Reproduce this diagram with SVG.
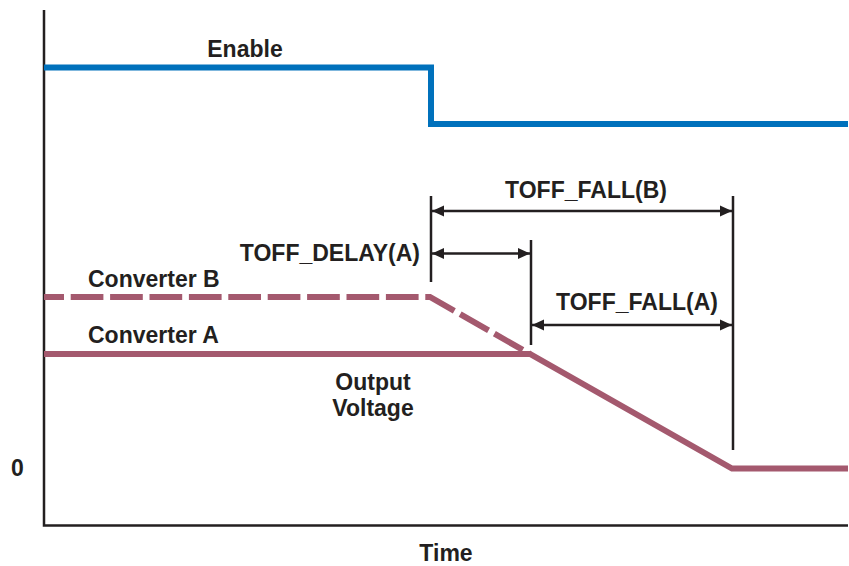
<svg xmlns="http://www.w3.org/2000/svg" width="849" height="566" viewBox="0 0 849 566">
<style>
  text { font-family: "Liberation Sans", Arial, sans-serif; font-weight: bold; font-size: 23px; fill: #231f20; }
  .axis { stroke: #231f20; stroke-width: 2.5; fill: none; }
  .enable { stroke: #0071bc; stroke-width: 6; fill: none; stroke-linejoin: miter; }
  .conv { stroke: #a4596e; stroke-width: 6; fill: none; stroke-linejoin: miter; }
  .dash { stroke-dasharray: 32.7 6.7; stroke-dashoffset: 12.7; }
  .tick { stroke: #231f20; stroke-width: 2.5; fill: none; }
  .dim { stroke: #231f20; stroke-width: 2.5; fill: none; marker-start: url(#ah); marker-end: url(#ah); }
</style>
<defs>
  <marker id="ah" viewBox="0 0 12 12" refX="12" refY="6" markerWidth="12" markerHeight="12" markerUnits="userSpaceOnUse" orient="auto-start-reverse">
    <path d="M0,0.5 L12,6 L0,11.5 Z" fill="#231f20"/>
  </marker>
</defs>
<g id="axes">
  <path class="axis" d="M44,10 V525.5 H848"/>
  <text x="11" y="476">0</text>
  <text x="446" y="561" text-anchor="middle">Time</text>
</g>
<g id="enable">
  <path class="enable" d="M44,67.5 H431 V124 H848"/>
  <text x="245" y="56.5" text-anchor="middle">Enable</text>
</g>
<g id="converter-b">
  <path class="conv dash" d="M44,297 H430 L530,354"/>
  <text x="88" y="287">Converter B</text>
</g>
<g id="converter-a">
  <path class="conv" d="M44,354 H530 L732,468.5 H848"/>
  <text x="88" y="343">Converter A</text>
</g>
<g id="output-label">
  <text x="373" y="390" text-anchor="middle">Output</text>
  <text x="373" y="416" text-anchor="middle">Voltage</text>
</g>
<g id="connectors">
  <path class="tick" d="M431,196 V282"/>
  <path class="tick" d="M531,240 V345"/>
  <path class="tick" d="M733,196 V450"/>
  <path class="dim" d="M432,211 H732"/>
  <path class="dim" d="M432,253.5 H530"/>
  <path class="dim" d="M532,325 H732"/>
</g>
<g id="toff-fall-b">
  <text x="586" y="198" text-anchor="middle">TOFF_FALL(B)</text>
</g>
<g id="toff-delay-a">
  <text x="420" y="261" text-anchor="end">TOFF_DELAY(A)</text>
</g>
<g id="toff-fall-a">
  <text x="637" y="310" text-anchor="middle">TOFF_FALL(A)</text>
</g>
</svg>
